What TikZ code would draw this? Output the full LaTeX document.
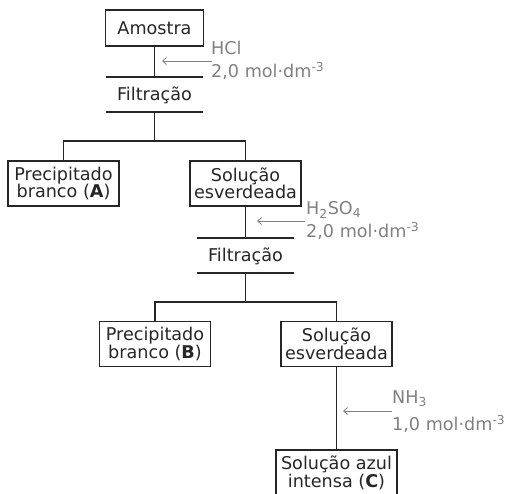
\documentclass[tikz,border=0pt]{standalone}
\usepackage{fontspec}
\setmainfont{DejaVu Sans}
\usepackage{tikz}
\usetikzlibrary{arrows.meta,positioning}

\begin{document}
\begin{tikzpicture}[x=1pt, y=-1pt]
	\tikzstyle{every node} = [font=\fontsize{17.6}{17.5}\selectfont, align=center, inner sep=0pt, text=black!85]
	\tikzstyle{caixa} = [draw = black!85, line width=1.2pt, minimum width=111pt, minimum height=45pt]
	\tikzstyle{linha} = [draw = black!85, line width=1.2pt]
	\tikzstyle{reag} = [text = black!50, anchor = west]
	\tikzstyle{seta} = [draw = black!50, line width=0.8pt, -{Straight Barb[length=4pt, width=7pt]}]
	\useasboundingbox (0,0) rectangle (510,493);
	\clip (0,0) rectangle (510,493);
\node[caixa, minimum width=98pt, minimum height=36pt] (amostra) at (154.5, 28) {Amostra};
\node (filt1) at (154.5, 95) {Filtração};
\node[caixa] (precA) at (63.5, 183.5) {Precipitado\\branco (\textbf{A})};
\node[caixa] (solA) at (245.5, 183.5) {Solução\\esverdeada};
\node (filt2) at (245.5, 256) {Filtração};
\node[caixa] (precB) at (155, 344) {Precipitado\\branco (\textbf{B})};
\node[caixa] (solB) at (336.5, 344) {Solução\\esverdeada};
\node[caixa, minimum width=121pt, minimum height=46pt] (solC) at (336.5, 473) {Solução azul\\intensa (\textbf{C})};
	% filtros
	\coordinate (f1top) at (154.5, 77);
	\coordinate (f1bot) at (154.5, 112);
	\coordinate (ramo1) at (154.5, 141);
	\coordinate (f2top) at (245.5, 238);
	\coordinate (f2bot) at (245.5, 273);
	\coordinate (ramo2) at (245.5, 302);
	\path[linha] ([xshift=-48.5pt]f1top) -- ([xshift=48.5pt]f1top);
	\path[linha] ([xshift=-48.5pt]f1bot) -- ([xshift=48.5pt]f1bot);
	\path[linha] ([xshift=-48.5pt]f2top) -- ([xshift=48.5pt]f2top);
	\path[linha] ([xshift=-48.5pt]f2bot) -- ([xshift=48.5pt]f2bot);
	% ligacoes
	\path[linha] (amostra) -- (f1top);
	\path[linha] (f1bot) -- (ramo1);
	\path[linha] (precA.north) |- (ramo1) -| (solA.north);
	\path[linha] (solA) -- (f2top);
	\path[linha] (f2bot) -- (ramo2);
	\path[linha] (precB.north) |- (ramo2) -| (solB.north);
	\path[linha] (solB) -- (solC);
	% reagentes
\node[reag] (hcl) at (211, 48) {HCl};
\node[reag] (conc1) at (211, 71) {2,0 mol·dm\textsuperscript{-3}};
\node[reag] (h2so4) at (306, 210) {H\textsubscript{2}SO\textsubscript{4}};
\node[reag] (conc2) at (306, 231) {2,0 mol·dm\textsuperscript{-3}};
\node[reag] (nh3) at (392, 399) {NH\textsubscript{3}};
\node[reag] (conc3) at (392, 424) {1,0 mol·dm\textsuperscript{-3}};
	\coordinate (s1) at (212, 61);
	\coordinate (t1) at (162, 61);
	\coordinate (s2) at (305, 221);
	\coordinate (t2) at (257, 221);
	\coordinate (s3) at (392, 411);
	\coordinate (t3) at (343, 411);
	\path[seta] (s1) -- (t1);
	\path[seta] (s2) -- (t2);
	\path[seta] (s3) -- (t3);
\end{tikzpicture}
\end{document}
